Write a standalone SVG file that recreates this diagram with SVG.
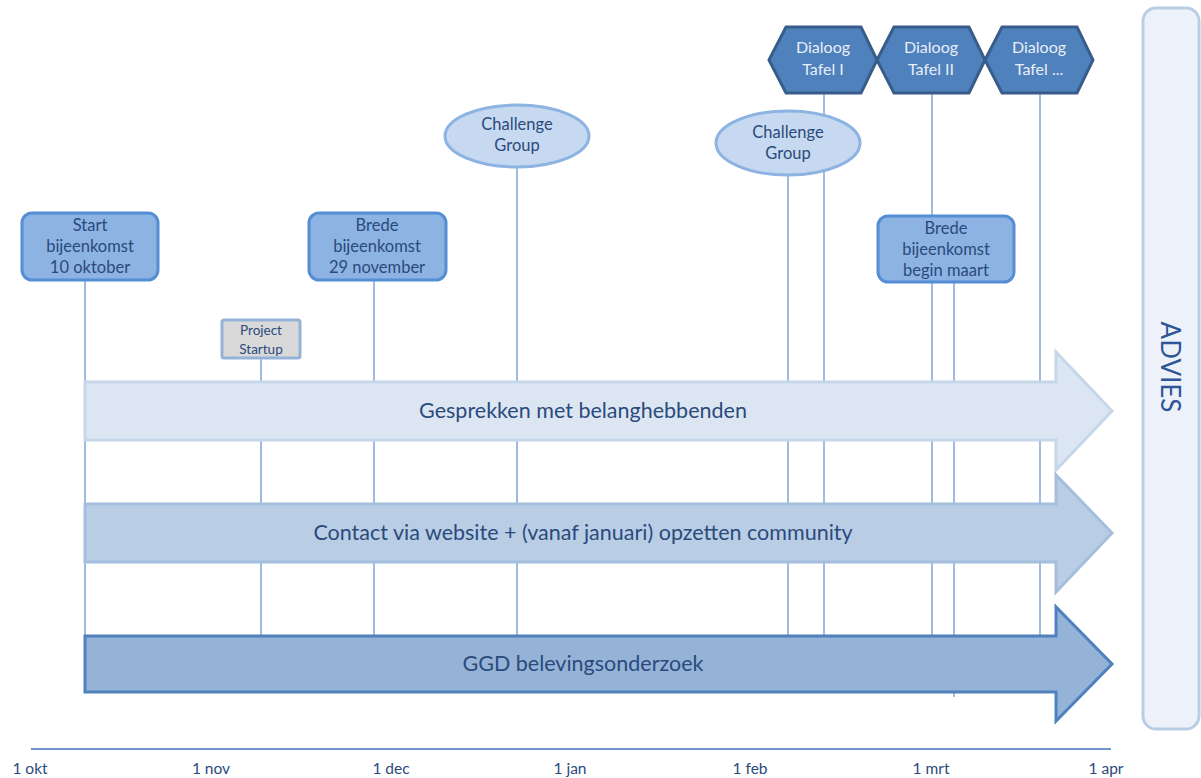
<svg xmlns="http://www.w3.org/2000/svg" width="1201" height="778" viewBox="0 0 1201 778">
<style>
text{font-family:Lato,"Liberation Sans",sans-serif;text-anchor:middle}
.nt{font-size:16.5px;fill:#2b4a7c}
.st{font-size:13.5px;fill:#2b4a7c}
.ht{font-size:16px;fill:#e8eef7}
.at{font-size:21.5px;fill:#2b4a7c}
.ax{font-size:15.5px;fill:#2b4a7c}
.box{fill:#8db3e2;stroke:#558ed5;stroke-width:3}
.ell{fill:#c6d9f1;stroke:#8db3e2;stroke-width:3}
.hex{fill:#4f81bd;stroke:#385d8a;stroke-width:3}
.vl{stroke:#6f96cc;stroke-width:1.3;fill:none}
</style>
<rect width="1201" height="778" fill="#ffffff"/>
<g id="advies">
<rect x="1143" y="8" width="56" height="721" rx="13" fill="#edf2fa" stroke="#b9cde5" stroke-width="3"/>
<text transform="translate(1161,367) rotate(90)" style="font-size:26px;fill:#2e5597">ADVIES</text>
</g>
<g id="connectors">
<line class="vl" x1="85" y1="280" x2="85" y2="636"/>
<line class="vl" x1="261" y1="358" x2="261" y2="636"/>
<line class="vl" x1="374" y1="280" x2="374" y2="636"/>
<line class="vl" x1="517" y1="168" x2="517" y2="636"/>
<line class="vl" x1="788" y1="175" x2="788" y2="636"/>
<line class="vl" x1="824" y1="93" x2="824" y2="636"/>
<line class="vl" x1="932" y1="93" x2="932" y2="636"/>
<line class="vl" x1="954" y1="282" x2="954" y2="697"/>
<line class="vl" x1="1040" y1="93" x2="1040" y2="636"/>
</g>
<g id="arrow-gesprekken">
<polygon points="85,382 1056,382 1056,352 1112,411 1056,470 1056,440 85,440" fill="#dce6f2" stroke="#c6d7ea" stroke-width="3"/>
<text class="at" x="583" y="418">Gesprekken met belanghebbenden</text>
</g>
<g id="arrow-contact">
<polygon points="85,504 1056,504 1056,475 1112,533 1056,592 1056,562 85,562" fill="#b9cde5" stroke="#a4bedd" stroke-width="3"/>
<text class="at" x="583" y="540">Contact via website + (vanaf januari) opzetten community</text>
</g>
<g id="arrow-ggd">
<polygon points="85,636 1056,636 1056,607 1112,664 1056,721 1056,692 85,692" fill="#95b3d7" stroke="#4f81bd" stroke-width="3"/>
<text class="at" x="583" y="671">GGD belevingsonderzoek</text>
</g>
<g id="start">
<rect class="box" x="22" y="213" width="136" height="67" rx="10"/>
<text class="nt" x="90" y="231">Start</text>
<text class="nt" x="90" y="252">bijeenkomst</text>
<text class="nt" x="90" y="273">10 oktober</text>
</g>
<g id="brede-nov">
<rect class="box" x="309" y="213" width="137" height="67" rx="10"/>
<text class="nt" x="377" y="231">Brede</text>
<text class="nt" x="377" y="252">bijeenkomst</text>
<text class="nt" x="377" y="273">29 november</text>
</g>
<g id="brede-maart">
<rect class="box" x="878" y="216" width="136" height="66" rx="10"/>
<text class="nt" x="946" y="234">Brede</text>
<text class="nt" x="946" y="255">bijeenkomst</text>
<text class="nt" x="946" y="276">begin maart</text>
</g>
<g id="project-startup">
<rect x="222" y="320" width="78" height="38" rx="2" fill="#d9d9d9" stroke="#95b3d7" stroke-width="3"/>
<text class="st" x="261" y="335">Project</text>
<text class="st" x="261" y="354">Startup</text>
</g>
<g id="challenge-1">
<ellipse class="ell" cx="517" cy="136" rx="72" ry="31"/>
<text class="nt" x="517" y="130">Challenge</text>
<text class="nt" x="517" y="151">Group</text>
</g>
<g id="challenge-2">
<ellipse class="ell" cx="788" cy="143" rx="72" ry="32"/>
<text class="nt" x="788" y="138">Challenge</text>
<text class="nt" x="788" y="159">Group</text>
</g>
<g id="dialoog-1">
<polygon class="hex" points="769,60 786,27 861,27 877,60 861,93 786,93"/>
<text class="ht" x="823" y="53">Dialoog</text>
<text class="ht" x="823" y="75">Tafel I</text>
</g>
<g id="dialoog-2">
<polygon class="hex" points="877,60 894,27 969,27 985,60 969,93 894,93"/>
<text class="ht" x="931" y="53">Dialoog</text>
<text class="ht" x="931" y="75">Tafel II</text>
</g>
<g id="dialoog-3">
<polygon class="hex" points="985,60 1002,27 1077,27 1093,60 1077,93 1002,93"/>
<text class="ht" x="1039" y="53">Dialoog</text>
<text class="ht" x="1039" y="75">Tafel ...</text>
</g>
<g id="axis">
<line x1="31" y1="749" x2="1111" y2="749" stroke="#6f96cc" stroke-width="2"/>
<text class="ax" x="30" y="774">1 okt</text>
<text class="ax" x="211" y="774">1 nov</text>
<text class="ax" x="391" y="774">1 dec</text>
<text class="ax" x="570" y="774">1 jan</text>
<text class="ax" x="750" y="774">1 feb</text>
<text class="ax" x="931" y="774">1 mrt</text>
<text class="ax" x="1106" y="774">1 apr</text>
</g>
</svg>
